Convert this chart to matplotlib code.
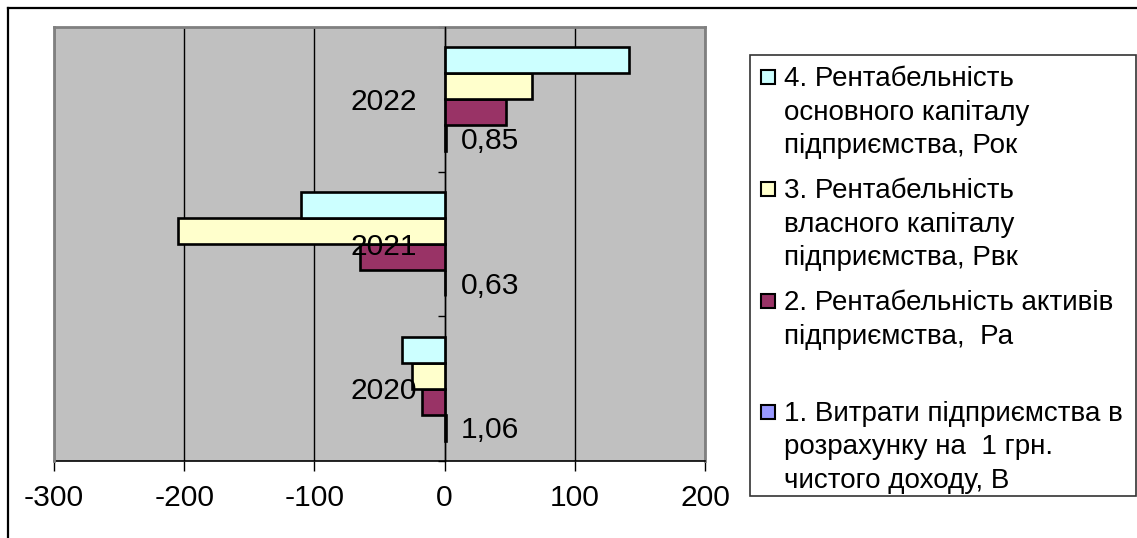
import matplotlib
matplotlib.use("Agg")
import matplotlib.pyplot as plt
from matplotlib.lines import Line2D
from matplotlib.patches import Rectangle
import numpy as np

plt.rcParams['font.family'] = ['Liberation Sans', 'DejaVu Sans']

# Data
years = ["2020", "2021", "2022"]
costs_per_uah = [1.06, 0.63, 0.85]          # 1. Витрати на 1 грн. чистого доходу, В
return_on_assets = [-17, -65, 47]           # 2. Рентабельність активів, Ра
return_on_equity = [-25, -205, 67.5]        # 3. Рентабельність власного капіталу, Рвк
return_on_fixed_capital = [-33, -110, 142]  # 4. Рентабельність основного капіталу, Рок

series_labels = [
    ["1. Витрати підприємства в", "розрахунку на  1 грн.", "чистого доходу, В"],
    ["2. Рентабельність активів", "підприємства,  Ра"],
    ["3. Рентабельність", "власного капіталу", "підприємства, Рвк"],
    ["4. Рентабельність", "основного капіталу", "підприємства, Рок"],
]
series_values = [costs_per_uah, return_on_assets, return_on_equity, return_on_fixed_capital]
series_colors = ["#9999FF", "#993366", "#FFFFCC", "#CCFFFF"]
x_ticks = [-300, -200, -100, 0, 100, 200]

W, H = 1137, 538
fig = plt.figure(figsize=(W / 100, H / 100), dpi=100)
fig.patch.set_facecolor("white")


def fx(x):
    return x / W


def fy(y):
    return 1 - y / H


# Plot area
left, right, top, bottom = 54, 705, 27, 461
ax = fig.add_axes([fx(left), fy(bottom), (right - left) / W, (bottom - top) / H])
ax.set_facecolor("#C0C0C0")
ax.set_xlim(-300, 200)
ax.set_ylim(-0.5, 2.5)

bar_h = 0.18
pos = np.arange(len(years))
offsets = [-1.5, -0.5, 0.5, 1.5]
for vals, col, off in zip(series_values, series_colors, offsets):
    ax.barh(pos + off * bar_h, vals, height=bar_h, color=col,
            edgecolor="black", linewidth=1.9, zorder=3)

# Value labels for the first series
for y, v in zip(pos, costs_per_uah):
    ax.annotate(f"{v:.2f}".replace(".", ","), xy=(v, y - 1.5 * bar_h),
                xytext=(15, -10.7), textcoords="offset pixels",
                ha="left", va="baseline", fontsize=21.6, color="black", zorder=5)

# Category labels beside the zero axis
for y, name in zip(pos, years):
    ax.annotate(name, xy=(0, y), xytext=(-28, -10.7), textcoords="offset pixels",
                ha="right", va="baseline", fontsize=21.6, color="black", zorder=6)

# Axes styling
ax.set_xticks(x_ticks)
ax.set_xticklabels([str(t) for t in x_ticks])
ax.tick_params(axis="x", direction="out", length=7.5, width=1, color="black",
               labelsize=21.6, pad=9)
ax.grid(axis="x", color="black", linewidth=1, zorder=1)
ax.set_axisbelow(True)

ax.spines["left"].set_position(("data", 0))
ax.spines["left"].set_color("black")
ax.spines["left"].set_linewidth(1)
ax.spines["left"].set_zorder(4)
ax.set_yticks([-0.5, 0.5, 1.5, 2.5])
ax.set_yticklabels([])
ax.tick_params(axis="y", direction="out", length=5, width=1, color="black")

ax.spines["bottom"].set_color("black")
ax.spines["bottom"].set_linewidth(1.2)
for s in ("top", "right"):
    ax.spines[s].set_color("#808080")
    ax.spines[s].set_linewidth(2)

# Plot-area border on the left edge
fig.add_artist(Line2D([fx(left), fx(left)], [fy(top), fy(bottom)],
                      color="#808080", linewidth=2))

# Chart frame (left and top edges)
fig.add_artist(Line2D([fx(8), fx(8)], [fy(8), 0], color="black", linewidth=1.6))
fig.add_artist(Line2D([fx(8), 1], [fy(8), fy(8)], color="black", linewidth=1.6))

# Legend box
lx0, ly0, lx1, ly1 = 750, 55, 1136, 496
fig.add_artist(Rectangle((fx(lx0), fy(ly1)), (lx1 - lx0) / W, (ly1 - ly0) / H,
                         transform=fig.transFigure, facecolor="white",
                         edgecolor="#333333", linewidth=1.2))

item_top = [412, 301, 189, 77]   # centre of the first line of each entry
line_step = 33.5
for labels, col, yc in zip(series_labels, series_colors, item_top):
    fig.add_artist(Rectangle((fx(761), fy(yc + 7)), 14 / W, 14 / H,
                             transform=fig.transFigure, facecolor=col,
                             edgecolor="black", linewidth=1.5))
    for i, line in enumerate(labels):
        fig.text(fx(784), fy(yc + i * line_step + 9), line, fontsize=20,
                 ha="left", va="baseline", color="black")

fig.savefig("out.png", dpi=100)
